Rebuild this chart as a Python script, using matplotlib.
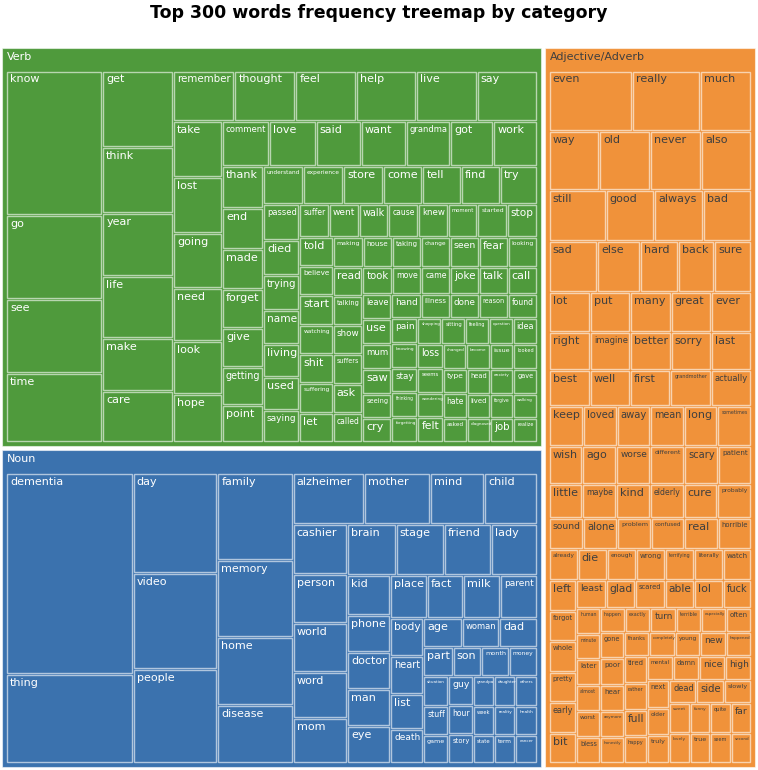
import matplotlib
matplotlib.use("Agg")
import matplotlib.pyplot as plt
from matplotlib.patches import Rectangle
from matplotlib.textpath import TextPath
from matplotlib.font_manager import FontProperties

title = "Top 300 words frequency treemap by category"
categories = ["Verb", "Noun", "Adjective/Adverb"]
cat_colors = ["#4f9a3c", "#3b72ae", "#f0923a"]
text_colors = ["white", "white", "#3f3f3f"]

verb_words = [
    "know", "go", "see", "time",
    "get", "think", "year", "life", "make", "care",
    "remember", "thought", "feel", "help", "live", "say",
    "take", "lost", "going", "need", "look", "hope",
    "comment", "love", "said", "want", "grandma", "got", "work",
    "thank", "end", "made", "forget", "give", "getting", "point",
    "understand", "experience", "store", "come", "tell", "find", "try",
    "passed", "died", "trying", "name", "living", "used", "saying",
    "suffer", "went", "walk", "cause", "knew", "moment", "started", "stop",
    "told", "believe", "start", "watching", "shit", "suffering", "let",
    "making", "house", "taking", "change", "seen", "fear", "looking",
    "read", "talking", "show", "suffers", "ask", "called",
    "took", "move", "came", "joke", "talk", "call",
    "leave", "use", "mum", "saw", "seeing", "cry",
    "hand", "illness", "done", "reason", "found",
    "pain", "knowing", "stay", "thinking", "forgetting",
    "shopping", "sitting", "feeling", "question", "idea",
    "loss", "seems", "wondering", "felt",
    "changed", "become", "issue", "looked",
    "type", "hate", "asked", "head", "anxiety", "gave",
    "lived", "diagnosed", "forgive", "walking", "job", "realize",
]
verb_counts = [
    497, 288, 254, 237,
    195, 165, 160, 159, 134, 129,
    110, 110, 109, 109, 109, 108,
    98, 97, 95, 93, 91, 84,
    76, 74, 72, 72, 71, 69, 69,
    62, 60, 59, 57, 57, 56, 54,
    54, 54, 54, 53, 52, 52, 50,
    47, 46, 45, 44, 43, 42, 42,
    35, 35, 35, 35, 35, 35, 35, 35,
    35, 35, 35, 35, 35, 35, 35,
    32, 31, 31, 31, 31, 31, 31,
    31, 31, 31, 31, 31, 31,
    29, 28, 28, 28, 28, 28,
    26, 26, 26, 26, 25, 25,
    25, 25, 25, 25, 25,
    23, 23, 23, 23, 23,
    22, 22, 22, 22, 22,
    22, 22, 22, 22,
    21, 21, 21, 21,
    21, 21, 21, 21, 21, 21,
    20, 20, 20, 20, 20, 20,
]

noun_words = [
    "dementia", "thing",
    "day", "video", "people",
    "family", "memory", "home", "disease",
    "alzheimer", "mother", "mind", "child",
    "cashier", "person", "world", "word", "mom",
    "brain", "stage", "friend", "lady",
    "kid", "phone", "doctor", "man", "eye",
    "place", "fact", "milk", "parent",
    "body", "heart", "list", "death",
    "age", "woman", "dad",
    "part", "son", "month", "money",
    "situation", "stuff", "game",
    "guy", "hour", "story",
    "grandpa", "daughter", "others",
    "week", "state", "reality", "health", "term", "cancer",
]
noun_counts = [
    931, 410,
    307, 298, 289,
    239, 211, 189, 159,
    134, 123, 102, 98,
    98, 97, 95, 91, 89,
    89, 88, 86, 84,
    63, 59, 59, 58, 58,
    58, 58, 58, 58,
    46, 45, 42, 41,
    40, 39, 39,
    32, 31, 30, 30,
    27, 27, 26,
    26, 26, 26,
    23, 23, 23,
    22, 22, 22, 22, 22, 22,
]

adj_words = [
    "even", "really", "much",
    "way", "old", "never", "also",
    "still", "good", "always", "bad",
    "sad", "else", "hard", "back", "sure",
    "lot", "put", "many", "great", "ever",
    "right", "imagine", "better", "sorry", "last",
    "best", "well", "first", "grandmother", "actually",
    "keep", "loved", "away", "mean", "long", "sometimes",
    "wish", "ago", "worse", "different", "scary", "patient",
    "little", "maybe", "kind", "elderly", "cure", "probably",
    "sound", "alone", "problem", "confused", "real", "horrible",
    "already", "die", "enough", "wrong", "terrifying", "literally", "watch",
    "left", "forgot", "whole", "pretty", "early", "bit",
    "least", "glad", "scared", "able", "lol", "fuck",
    "human", "minute", "later", "almost", "worst", "bless",
    "happen", "exactly", "turn", "terrible", "especially", "often",
    "gone", "poor", "hear", "anymore", "honestly",
    "thanks", "completely", "young", "new", "happened",
    "tired", "rather", "full", "happy",
    "mental", "damn", "nice", "high",
    "next", "older", "truly",
    "dead", "side", "slowly",
    "sweet", "lovely", "funny", "true", "quite", "far", "seem", "second",
]
adj_counts = [
    180, 146, 109,
    107, 107, 107, 105,
    104, 89, 88, 88,
    88, 77, 69, 66, 66,
    59, 58, 58, 58, 57,
    56, 55, 55, 55, 54,
    53, 52, 52, 52, 52,
    49, 48, 48, 48, 48, 48,
    46, 46, 46, 46, 46, 45,
    41, 41, 41, 41, 41, 41,
    38, 38, 37, 37, 37, 37,
    32, 32, 32, 32, 32, 31, 31,
    30, 30, 30, 30, 30, 30,
    29, 29, 29, 29, 28, 28,
    22, 22, 22, 22, 22, 22,
    22, 22, 22, 22, 22, 22,
    22, 22, 22, 22, 22,
    22, 22, 22, 22, 22,
    22, 22, 22, 22,
    22, 22, 22, 22,
    22, 22, 22,
    22, 22, 22,
    22, 22, 22, 22, 22, 22, 22, 22,
]

cat_words = [verb_words, noun_words, adj_words]
cat_counts = [verb_counts, noun_counts, adj_counts]


def worst(row, side):
    s = sum(row)
    return max(max(side * side * r / (s * s), s * s / (side * side * r)) for r in row)


def squarify(vals, x, y, w, h):
    total = float(sum(vals))
    areas = [v * w * h / total for v in vals]
    rects = []
    i = 0
    while i < len(areas):
        side = min(w, h)
        row = [areas[i]]
        j = i + 1
        while j < len(areas) and worst(row + [areas[j]], side) <= worst(row, side):
            row.append(areas[j])
            j += 1
        s = sum(row)
        if w >= h:
            cw = s / h
            yy = y
            for a in row:
                rh = a / cw
                rects.append((x, yy, cw, rh))
                yy += rh
            x += cw
            w -= cw
        else:
            rh = s / w
            xx = x
            for a in row:
                rw = a / rh
                rects.append((xx, y, rw, rh))
                xx += rw
            y += rh
            h -= rh
        i = j
    return rects


W, H = 758, 770
fig = plt.figure(figsize=(W / 100, H / 100), dpi=100)
ax = fig.add_axes([0, 0, 1, 1])
ax.set_xlim(0, W)
ax.set_ylim(H, 0)
ax.axis("off")

fp = FontProperties(family="DejaVu Sans")


def text_px(s, size_pt):
    return TextPath((0, 0), s, size=size_pt, prop=fp).get_extents().width * 100 / 72


fig.text(0.5, 1 - 13 / H, title, ha="center", va="center",
         fontsize=12.5, fontweight="bold", color="black")

totals = [sum(c) for c in cat_counts]
top_rects = squarify(totals, 0, 45.5, 757, 723.5)

BASE = 8.0
for ci, (cx, cy, cw, ch) in enumerate(top_rects):
    ox, oy, ow, oh = cx + 2, cy + 2, cw - 4, ch - 4
    ax.add_patch(Rectangle((ox, oy), ow, oh, facecolor=cat_colors[ci],
                           edgecolor=(1, 1, 1, 0.55), linewidth=0.8))
    ax.text(ox + 5, oy + 4, categories[ci], ha="left", va="top",
            fontsize=BASE, color=text_colors[ci])
    ix, iy, iw, ih = ox + 4, oy + 23, ow - 8, oh - 27
    pairs = sorted(zip(cat_words[ci], cat_counts[ci]), key=lambda p: -p[1])
    words = [p[0] for p in pairs]
    vals = [p[1] for p in pairs]
    rects = squarify(vals, ix, iy, iw, ih)
    for word, (rx, ry, rw, rh) in zip(words, rects):
        ax.add_patch(Rectangle((rx + 1, ry + 1), rw - 2, rh - 2,
                               facecolor=cat_colors[ci],
                               edgecolor=(1, 1, 1, 0.6), linewidth=1.0))
        fs = BASE
        tw = text_px(word, BASE)
        if tw > rw - 8:
            fs = max(3.0, BASE * (rw - 8) / tw)
        ax.text(rx + 4, ry + 4, word, ha="left", va="top", fontsize=fs,
                color=text_colors[ci])

fig.savefig("out.png", dpi=100)
